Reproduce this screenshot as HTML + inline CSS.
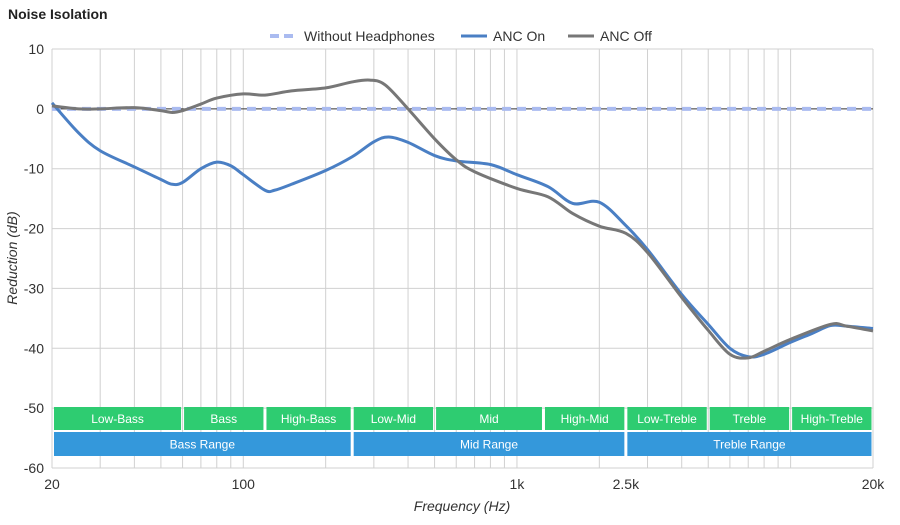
<!DOCTYPE html>
<html><head><meta charset="utf-8"><style>
body{margin:0;background:#fff;font-family:"Liberation Sans",Arial,sans-serif}
svg text{font-family:"Liberation Sans",Arial,sans-serif}
</style></head><body>
<svg id="chart" width="900" height="520" viewBox="0 0 900 520">
<text x="8" y="19" font-size="14" font-weight="bold" fill="#222">Noise Isolation</text>
<g>
<g><line x1="270" y1="36" x2="298" y2="36" stroke="#aabbf0" stroke-width="4" stroke-dasharray="9,5"/><text x="304" y="41" font-size="14" fill="#333">Without Headphones</text></g>
<g><line x1="461" y1="36" x2="487" y2="36" stroke="#4a7fc4" stroke-width="3"/><text x="493" y="41" font-size="14" fill="#333">ANC On</text></g>
<g><line x1="568" y1="36" x2="594" y2="36" stroke="#777" stroke-width="3"/><text x="600" y="41" font-size="14" fill="#333">ANC Off</text></g>
</g>
<g id="grid"></g>
<g id="bands"></g>
<g id="series"></g>
<g id="axes"></g>
<text x="462" y="511" font-size="14" font-style="italic" fill="#333" text-anchor="middle">Frequency (Hz)</text>
<text transform="translate(17,258) rotate(-90)" font-size="14" font-style="italic" fill="#333" text-anchor="middle">Reduction (dB)</text>
</svg>
<script>
const yTicks=[10,0,-10,-20,-30,-40,-50,-60];
const xTickValues=[20,100,1000,2500,20000];
const xTickLabels=["20","100","1k","2.5k","20k"];
const gridFreqs=[20,30,40,50,60,70,80,90,100,200,300,400,500,600,700,800,900,1000,2000,3000,4000,5000,6000,7000,8000,9000,10000,20000];
const ancOnFreq=[20,25,30,40,50,55,60,70,80,90,100,120,130,150,200,250,300,340,400,500,600,800,1000,1300,1600,2000,2500,3000,4000,5000,6000,7000,8000,10000,12000,14000,16000,20000];
const ancOnDb=[1,-4,-7,-9.7,-11.8,-12.6,-12.3,-10,-8.9,-9.5,-11,-13.6,-13.6,-12.6,-10.3,-8,-5.5,-4.7,-5.6,-7.8,-8.7,-9.3,-11,-13,-15.8,-15.6,-19.5,-23.5,-31,-36,-40,-41.4,-41,-39,-37.5,-36.2,-36.3,-36.7];
const ancOffFreq=[20,25,30,40,50,55,60,70,80,100,120,150,200,250,290,330,400,500,600,700,1000,1300,1600,2000,2500,3000,4000,5000,6000,7000,8000,10000,14000,16000,20000];
const ancOffDb=[0.5,0,0,0.2,-0.3,-0.6,-0.3,0.8,1.8,2.5,2.3,3,3.5,4.5,4.8,4,0,-5,-8.5,-10.5,-13.3,-14.7,-17.5,-19.6,-20.8,-24,-31.5,-37,-41,-41.6,-40.5,-38.5,-36,-36.3,-37.1];
const noHpFreq=[20,20000];
const noHpDb=[0,0];
const bandNames=["Low-Bass","Bass","High-Bass","Low-Mid","Mid","High-Mid","Low-Treble","Treble","High-Treble"];
const bandEdges=[20,60,120,250,500,1250,2500,5000,10000,20000];
const rangeNames=["Bass Range","Mid Range","Treble Range"];
const rangeEdges=[20,250,2500,20000];

const NS="http://www.w3.org/2000/svg";
const X0=52,X1=873,Y0=49,Y1=468;
const xs=f=>X0+(Math.log10(f/20)/3)*(X1-X0);
const ys=d=>Y0+(10-d)/70*(Y1-Y0);
function mk(tag,attrs,parent){const e=document.createElementNS(NS,tag);for(const k in attrs)e.setAttribute(k,attrs[k]);parent.appendChild(e);return e;}
const grid=document.getElementById('grid'),axes=document.getElementById('axes'),bands=document.getElementById('bands'),series=document.getElementById('series');
gridFreqs.forEach(f=>{const l=mk('line',{x1:xs(f),x2:xs(f),y1:Y0,y2:Y1,stroke:'#d0d0d0','stroke-width':1},grid);

});
yTicks.forEach(t=>{const l=mk('line',{x1:X0,x2:X1,y1:ys(t),y2:ys(t),stroke:t===0?'#333':'#d0d0d0','stroke-width':1},grid);


const tx=mk('text',{x:44,y:ys(t)+5,'font-size':14,fill:'#333','text-anchor':'end'},axes);tx.textContent=t;

});
xTickValues.forEach((f,i)=>{const tx=mk('text',{x:xs(f),y:489,'font-size':14,fill:'#333','text-anchor':'middle'},axes);tx.textContent=xTickLabels[i];

});
function band(names,edges,y,h,col){names.forEach((n,i)=>{const a=xs(edges[i])+(i===0?2:1.5),b=xs(edges[i+1])-1.5;
const g=mk('g',{},bands);


mk('rect',{x:a,y:y,width:b-a,height:h,fill:col},g);
const t=mk('text',{x:(a+b)/2,y:y+h/2+4.5,'font-size':12,fill:'#fff','text-anchor':'middle'},g);t.textContent=n;});}
band(bandNames,bandEdges,407,23,'#2ecc71');
band(rangeNames,rangeEdges,432,24,'#3498db');
function path(fr,db){const p=fr.map((f,i)=>[xs(f),ys(db[i])]);let d='M'+p[0][0]+','+p[0][1];
for(let i=0;i<p.length-1;i++){const p0=p[i-1]||p[i],p1=p[i],p2=p[i+1],p3=p[i+2]||p2;
d+=' C'+(p1[0]+(p2[0]-p0[0])/6)+','+(p1[1]+(p2[1]-p0[1])/6)+' '+(p2[0]-(p3[0]-p1[0])/6)+','+(p2[1]-(p3[1]-p1[1])/6)+' '+p2[0]+','+p2[1];}return d;}
const nh=mk('path',{d:path(noHpFreq,noHpDb),stroke:'#aabbf0','stroke-width':4,'stroke-dasharray':'9,6',fill:'none'},series);


const on=mk('path',{d:path(ancOnFreq,ancOnDb),stroke:'#4a7fc4','stroke-width':3,fill:'none'},series);


const off=mk('path',{d:path(ancOffFreq,ancOffDb),stroke:'#777','stroke-width':3,fill:'none'},series);


</script>
</body></html>
